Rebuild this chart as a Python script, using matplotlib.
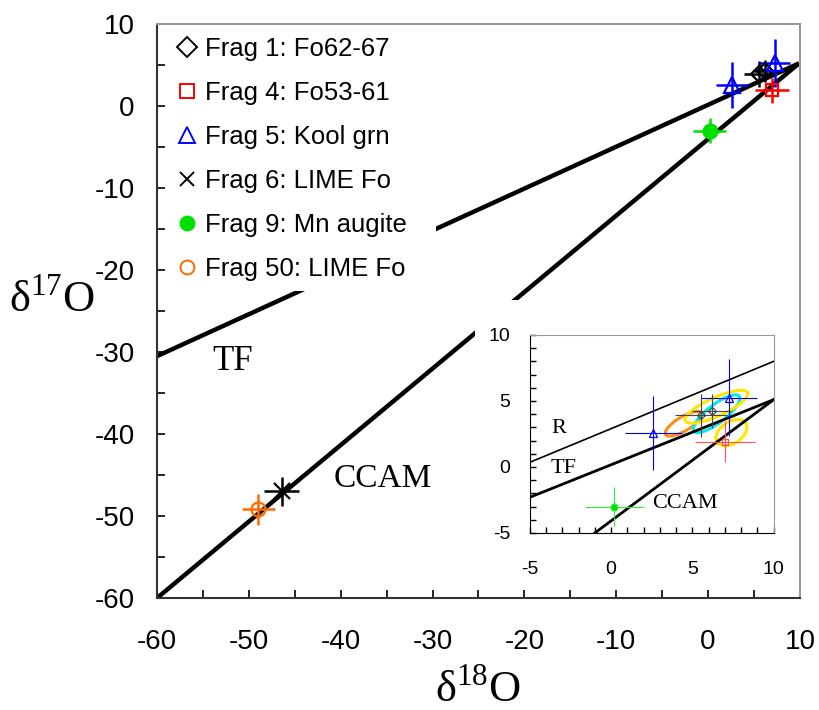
import matplotlib
matplotlib.use("Agg")
import matplotlib.pyplot as plt
from matplotlib.lines import Line2D
from matplotlib.patches import Rectangle, Ellipse

plt.rcParams['font.family'] = ['Liberation Sans', 'DejaVu Sans']
plt.rcParams['mathtext.fontset'] = 'custom'
plt.rcParams['mathtext.rm'] = 'Liberation Serif'
plt.rcParams['axes.unicode_minus'] = False

SERIF = ['Liberation Serif', 'DejaVu Serif']

# reference lines (end points)
tf_x = [-60, 9.9]
tf_y = [-30.5, 5.2]
ccam_x = [-60, 9.9]
ccam_y = [-60, 5.2]

# inset lines
in_r_x = [-5, 10]
in_r_y = [0.35, 8.0]
in_tf_x = [-5, 10]
in_tf_y = [-2.3, 5.1]
in_ccam_x = [-1.0, 10]
in_ccam_y = [-5.0, 5.1]

# fragments: x, y, xerr, yerr
frag1_x = [5.5, 6.2]
frag1_y = [3.9, 4.25]
frag1_xerr = [1.6, 1.2]
frag1_yerr = [1.6, 1.3]

frag4_x = [7.0]
frag4_y = [1.9]
frag4_xerr = [1.85]
frag4_yerr = [1.55]

frag5_x = [2.6, 7.25]
frag5_y = [2.55, 5.25]
frag5_xerr = [1.75, 1.7]
frag5_yerr = [2.8, 2.9]

frag6_x = [-46.4]
frag6_y = [-47.0]
frag6_xerr = [1.9]
frag6_yerr = [1.8]

frag9_x = [0.2]
frag9_y = [-3.0]
frag9_xerr = [1.8]
frag9_yerr = [1.5]

frag50_x = [-49.0]
frag50_y = [-49.2]
frag50_xerr = [1.8]
frag50_yerr = [1.9]

labels = ["Frag 1: Fo62-67", "Frag 4: Fo53-61", "Frag 5: Kool grn",
          "Frag 6: LIME Fo", "Frag 9: Mn augite", "Frag 50: LIME Fo"]

# inset ellipses: center x, center y, width, height, angle, colour
ell_cx = [4.46, 6.48, 6.48, 7.4]
ell_cy = [3.27, 4.03, 4.56, 2.6]
ell_w = [2.75, 3.85, 4.4, 2.3]
ell_h = [1.0, 1.25, 1.35, 1.5]
ell_ang = [38, 45, 30, 48]
ell_col = ["#ff8c1a", "#00e8f0", "#ffe600", "#ffe600"]

fig = plt.figure(figsize=(8.2, 7.1), dpi=100)
ax = fig.add_axes([0.1915, 0.1577, 0.784, 0.8085])

ax.plot(tf_x, tf_y, color="black", lw=3.2, zorder=2, solid_capstyle="butt")
ax.plot(ccam_x, ccam_y, color="black", lw=3.2, zorder=2, solid_capstyle="butt")

series = [
    (frag1_x, frag1_y, frag1_xerr, frag1_yerr, "D", "black", "none", 8),
    (frag4_x, frag4_y, frag4_xerr, frag4_yerr, "s", "red", "none", 9),
    (frag5_x, frag5_y, frag5_xerr, frag5_yerr, "^", "blue", "none", 12),
    (frag6_x, frag6_y, frag6_xerr, frag6_yerr, "x", "black", "black", 11),
    (frag9_x, frag9_y, frag9_xerr, frag9_yerr, "o", "#00e000", "#00e000", 10),
    (frag50_x, frag50_y, frag50_xerr, frag50_yerr, "o", "#ff6a00", "none", 10),
]
handles = []
for x, y, xe, ye, m, c, fc, ms in series:
    ax.errorbar(x, y, xerr=xe, yerr=ye, fmt=m, color=c, mfc=fc, mec=c,
                ms=ms, mew=1.6, elinewidth=1.8, capsize=0, zorder=3)
    handles.append(Line2D([], [], ls="none", marker=m, color=c, mfc=fc, mec=c,
                          ms=10 if m != "^" else 11, mew=1.4))

ax.text(-51.8, -31.2, "TF", fontsize=25, family=SERIF, ha="center", va="center")
ax.text(-35.4, -45.4, "CCAM", fontsize=24, family=SERIF, ha="center", va="center")

ax.set_xlim(-60, 10)
ax.set_ylim(-60, 10)
ax.set_xticks(range(-60, 11, 10))
ax.set_yticks(range(-60, 11, 10))
ax.set_xticks(range(-55, 10, 10), minor=True)
ax.set_yticks(range(-55, 10, 10), minor=True)
ax.tick_params(which="both", direction="in", length=6, width=1.2, labelsize=20)
ax.tick_params(axis="x", pad=22)
ax.tick_params(axis="y", pad=16)
for s in ["left", "bottom"]:
    ax.spines[s].set_color("#333333")
    ax.spines[s].set_linewidth(1.5)
for s in ["top", "right"]:
    ax.spines[s].set_color("#999999")
    ax.spines[s].set_linewidth(1.5)

# white area behind legend
ax.add_patch(Rectangle((0.013, 0.535), 0.421, 0.462, transform=ax.transAxes,
                       facecolor="white", edgecolor="none", zorder=4))
leg = ax.legend(handles, labels, loc="upper left", bbox_to_anchor=(0.031, 0.977),
                frameon=False, fontsize=18.5, handlelength=0.8, handletextpad=0.3,
                labelspacing=0.78, borderpad=0, borderaxespad=0)
leg.set_zorder(5)

# white area behind inset
ax.add_patch(Rectangle((0.495, 0.016), 0.502, 0.503, transform=ax.transAxes,
                       facecolor="white", edgecolor="none", zorder=6))

fig.text(0.064, 0.577, "δ$^{17}$O", fontsize=32, family=SERIF, ha="center", va="center")
fig.text(0.583, 0.028, "δ$^{18}$O", fontsize=32, family=SERIF, ha="center", va="center")

# inset
ins = fig.add_axes([0.646, 0.2493, 0.2976, 0.279])
ins.set_zorder(10)
ins.plot(in_r_x, in_r_y, color="black", lw=1.2)
ins.plot(in_tf_x, in_tf_y, color="black", lw=2.0)
ins.plot(in_ccam_x, in_ccam_y, color="black", lw=2.0)

in_series = [
    (frag4_x, frag4_y, frag4_xerr, frag4_yerr, "s", "#ff5050", "none", 4),
    (frag9_x, frag9_y, frag9_xerr, frag9_yerr, "o", "#33ee33", "#00e000", 5),
    (frag5_x, frag5_y, frag5_xerr, frag5_yerr, "^", "blue", "none", 6),
    (frag1_x, frag1_y, frag1_xerr, frag1_yerr, "D", "#444444", "none", 4),
]
for x, y, xe, ye, m, c, fc, ms in in_series:
    ins.errorbar(x, y, xerr=xe, yerr=ye, fmt=m, color=c, mfc=fc, mec=c,
                 ms=ms, mew=0.9, elinewidth=0.8, capsize=0)

for cx, cy, w, h, a, c in zip(ell_cx, ell_cy, ell_w, ell_h, ell_ang, ell_col):
    ins.add_patch(Ellipse((cx, cy), w, h, angle=a, facecolor="none",
                          edgecolor=c, lw=2.2))

ins.text(-3.2, 2.95, "R", fontsize=16, family=SERIF, ha="center", va="center")
ins.text(-2.95, -0.1, "TF", fontsize=16, family=SERIF, ha="center", va="center")
ins.text(2.55, -2.75, "CCAM", fontsize=16, family=SERIF, ha="left", va="center")

ins.set_xlim(-5, 10)
ins.set_ylim(-5, 10)
ins.set_xticks([-5, 0, 5, 10])
ins.set_yticks([-5, 0, 5, 10])
ins.set_xticks(range(-4, 10), minor=True)
ins.set_yticks(range(-4, 10), minor=True)
ins.tick_params(which="both", direction="in", length=4, width=1.0, labelsize=14)
ins.tick_params(axis="x", pad=20)
ins.tick_params(axis="y", pad=14)
for s in ["left", "bottom"]:
    ins.spines[s].set_color("black")
for s in ["top", "right"]:
    ins.spines[s].set_color("#999999")

fig.savefig("out.png", dpi=100)
